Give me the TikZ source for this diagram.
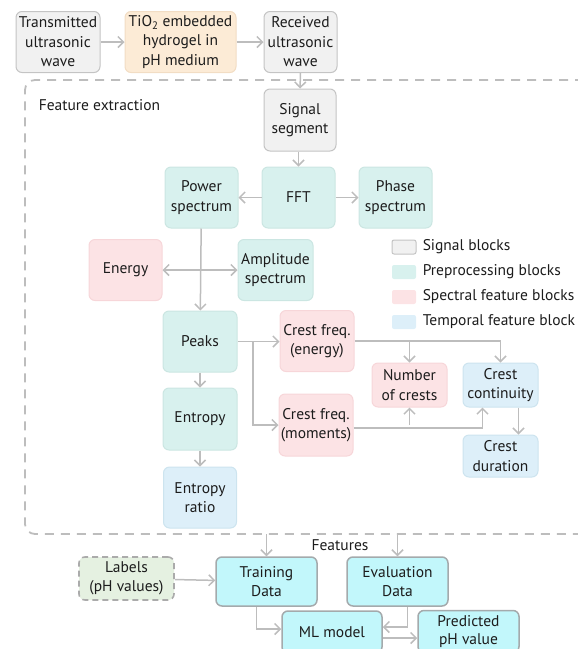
\documentclass[tikz,border=0pt]{standalone}
\usepackage{fontspec}
\setmainfont{PT Sans}
\usetikzlibrary{arrows.meta,positioning}

\definecolor{linegray}{HTML}{BDBDBD}
\definecolor{sigfill}{HTML}{F1F1F1}
\definecolor{sigdraw}{HTML}{C4C4C4}
\definecolor{hydfill}{HTML}{FCEBD6}
\definecolor{hyddraw}{HTML}{F2DDC4}
\definecolor{prefill}{HTML}{D8F1EE}
\definecolor{predraw}{HTML}{CBE6E2}
\definecolor{spefill}{HTML}{FCE3E5}
\definecolor{spedraw}{HTML}{F7D6D9}
\definecolor{temfill}{HTML}{DDEFF9}
\definecolor{temdraw}{HTML}{CDE4EF}
\definecolor{mlfill}{HTML}{C2F7FB}
\definecolor{mldraw}{HTML}{A4AAAC}
\definecolor{labfill}{HTML}{E5F1E1}
\definecolor{labdraw}{HTML}{ABABAB}
\definecolor{txt}{HTML}{1C1C1C}

\begin{document}
\begin{tikzpicture}[x=1pt,y=-1pt,->,>={Straight Barb[length=5.5pt,width=11pt]},
    draw=linegray,line width=1.5pt,text=txt,
    font=\fontsize{15.5}{19.5}\selectfont,
    blk/.style={rounded corners=6pt,align=center,inner sep=0pt,line width=1pt,
      minimum width=73pt,minimum height=61pt},
    sigblk/.style={blk,draw=sigdraw,fill=sigfill},
    hydblk/.style={blk,draw=hyddraw,fill=hydfill},
    preblk/.style={blk,draw=predraw,fill=prefill},
    speblk/.style={blk,draw=spedraw,fill=spefill},
    temblk/.style={blk,draw=temdraw,fill=temfill},
    mlblk/.style={blk,draw=mldraw,fill=mlfill,line width=1.5pt,
      minimum width=101pt,minimum height=49pt},
    swatch/.style={rounded corners=2pt,minimum width=24pt,minimum height=14pt,
      inner sep=0pt,line width=1pt},
    legtext/.style={anchor=west,inner sep=0pt}]

    \clip (0,0) rectangle (578,649);

    % signal chain
    \node[sigblk,minimum width=84pt] (trans) at (58,42) {Transmitted\\ultrasonic\\wave};
    \node[hydblk,minimum width=111pt] (hydro) at (180.5,42) {TiO\textsubscript{2} embedded\\hydrogel in\\pH medium};
    \node[sigblk] (recv) at (300.5,42) {Received\\ultrasonic\\wave};

    % feature extraction frame
    \draw[-,line width=1.8pt,dash pattern=on 9pt off 7pt,rounded corners=10pt]
      (600,80) -- (25,80) -- (25,534) -- (600,534);
    \node[anchor=west,inner sep=0pt] (fxlabel) at (38,105) {Feature extraction};

    \node[sigblk,minimum width=72pt,minimum height=62pt] (seg) at (300,120) {Signal\\segment};
    \node[preblk] (fft) at (298.5,197.5) {FFT};
    \node[preblk] (power) at (201.5,197.5) {Power\\spectrum};
    \node[preblk] (phase) at (395.5,197.5) {Phase\\spectrum};
    \node[speblk] (energy) at (125.5,270) {Energy};
    \node[preblk,minimum width=75pt] (ampl) at (275.5,270) {Amplitude\\spectrum};
    \node[preblk,minimum width=74pt] (peaks) at (200,341.5) {Peaks};
    \node[preblk,minimum width=74pt,minimum height=62pt] (entropy) at (200,419) {Entropy};
    \node[temblk] (eratio) at (200,497.5) {Entropy\\ratio};
    \node[speblk,minimum width=74pt] (crestE) at (317,341) {Crest freq.\\(energy)};
    \node[speblk,minimum width=74pt,minimum height=62pt] (crestM) at (316,425) {Crest freq.\\(moments)};
    \node[speblk,minimum width=75pt,minimum height=44pt] (ncrest) at (409.5,385) {Number\\of crests};
    \node[temblk,minimum width=75pt,minimum height=44pt] (cont) at (500.5,385) {Crest\\continuity};
    \node[temblk,minimum width=75pt,minimum height=42pt] (dur) at (500.5,456) {Crest\\duration};

    % legend
    \node[swatch,draw=sigdraw,fill=sigfill] (lgsig) at (404,247) {};
    \node[swatch,fill=prefill] (lgpre) at (404,272) {};
    \node[swatch,fill=spefill] (lgspe) at (404,297) {};
    \node[swatch,fill=temfill] (lgtem) at (404,322) {};
    \node[legtext] (lgsigt) at (422,247) {Signal blocks};
    \node[legtext] (lgpret) at (422,272) {Preprocessing blocks};
    \node[legtext] (lgspet) at (422,297) {Spectral feature blocks};
    \node[legtext] (lgtemt) at (422,322) {Temporal feature block};

    % learning stage
    \node (feat) at (340,545) {Features};
    \node[blk,draw=labdraw,fill=labfill,line width=1.6pt,dash pattern=on 6pt off 4pt,
      minimum width=95pt,minimum height=43pt] (labels) at (126.5,578.5) {Labels\\(pH values)};
    \node[mlblk] (train) at (266.5,581.5) {Training\\Data};
    \node[mlblk] (eval) at (397.5,581.5) {Evaluation\\Data};
    \node[mlblk,minimum width=100pt,minimum height=42pt] (ml) at (332,632) {ML model};
    \node[mlblk,minimum height=42pt,font=\fontsize{15.5}{18.5}\selectfont] (pred) at (468.5,631.5) {Predicted\\pH value};

    \coordinate (cross) at (200,270);
    \coordinate (pkbr) at (253,341.5);
    \coordinate (trin) at (266.5,534);
    \coordinate (evin) at (397.5,534);

    \path (trans) edge (hydro) (hydro) edge (recv) (recv) edge (seg)
      (seg.south -| fft.north) edge (fft.north) (fft) edge (power) (fft) edge (phase)
      (power) edge (peaks) (cross) edge (energy) (cross) edge (ampl)
      (peaks) edge (entropy) (entropy) edge (eratio)
      (peaks.east) edge (peaks.east -| crestE.west)
      (crestE.east -| ncrest.north) edge (ncrest.north)
      (crestM.east -| ncrest.south) edge (ncrest.south)
      ([xshift=18pt]cont.south) edge ([xshift=18pt]dur.north)
      (trin) edge (train) (evin) edge (eval) (labels) edge (train)
      ([yshift=-6pt]ml.east) edge ([yshift=-6pt]ml.east -| pred.west);

    \draw (pkbr) |- (crestM.west);
    \draw (crestE.east) -| (cont.north);
    \draw ([yshift=-3pt]crestM.east) -| ([xshift=-18pt]cont.south);
    \draw ([xshift=-10pt]train.south) |- ([yshift=3pt]ml.west);
    \draw ([xshift=10pt]eval.south) |- ([yshift=5pt]ml.east);

\end{tikzpicture}
\end{document}
